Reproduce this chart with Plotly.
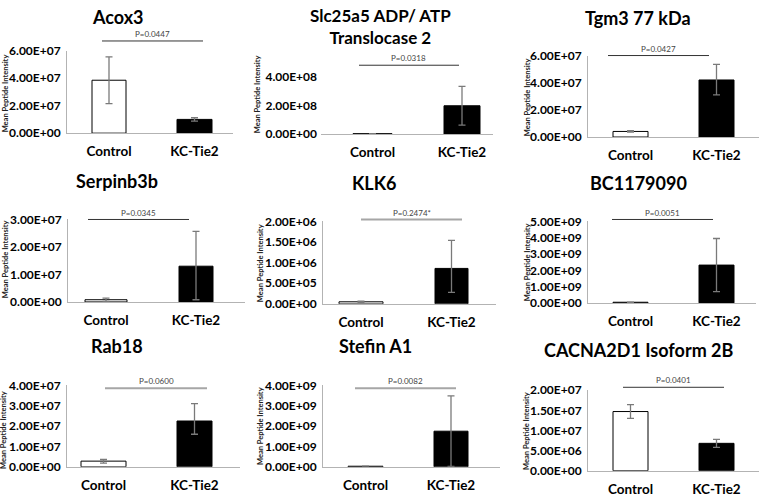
import plotly.graph_objects as go

# ---------------- data ----------------
categories = ["Control", "KC-Tie2"]
titles = ["Acox3", "Slc25a5 ADP/ ATP<br>Translocase 2", "Tgm3 77 kDa",
          "Serpinb3b", "KLK6", "BC1179090",
          "Rab18", "Stefin A1", "CACNA2D1 Isoform 2B"]
p_labels = ["P=0.0447", "P=0.0318", "P=0.0427",
            "P=0.0345", "P=0.2474*", "P=0.0051",
            "P=0.0600", "P=0.0082", "P=0.0401"]
control_mean = [3.85e7, 3.0e6, 4.1e6, 8.0e5, 5.0e4, 4.0e7, 2.8e6, 3.0e7, 1.47e7]
control_err_hi = [1.7e7, 1.0e6, 5.0e5, 6.0e5, 1.5e4, 0, 8.0e5, 0, 1.7e6]
control_err_lo = [1.7e7, 1.0e6, 5.0e5, 6.0e5, 1.5e4, 0, 1.0e6, 0, 1.7e6]
kc_mean = [1.0e7, 1.98e8, 4.2e7, 1.3e7, 8.6e5, 2.32e9, 2.25e7, 1.75e9, 6.8e6]
kc_err_hi = [1.2e6, 1.35e8, 1.15e7, 1.27e7, 6.8e5, 1.63e9, 8.5e6, 1.73e9, 1.0e6]
kc_err_lo = [1.2e6, 1.35e8, 1.1e7, 1.22e7, 5.8e5, 1.63e9, 6.5e6, 1.73e9, 1.0e6]
y_max = [6e7, 4e8, 6e7, 3e7, 2e6, 5e9, 4e7, 4e9, 2e7]
y_step = [2e7, 2e8, 2e7, 1e7, 5e5, 1e9, 1e7, 1e9, 5e6]
y_title = "Mean Peptide Intensity"

# ---------------- layout geometry (pixels) ----------------
W, H = 760, 501
geom = [
    dict(L=67, R=233, base=129, top=44, c0=109, c1=194.5, w0=34, w1=35, tx=118, ty=9, tsize=18, yx=5, yy=88, px0=102, px1=203, py=34, gray=False, yline=True),
    dict(L=321, R=493, base=130, top=71, c0=372.5, c1=462, w0=39, w1=36, tx=380, ty=19, tsize=17, yx=257, yy=89, px0=359, px1=459, py=59, gray=False, yline=False),
    dict(L=588, R=759, base=133, top=49, c0=630.5, c1=716.5, w0=35, w1=35, tx=638, ty=10, tsize=18, yx=527, yy=92, px0=608, px1=709, py=49, gray=False, yline=True),
    dict(L=68, R=245, base=303, top=218, c0=106, c1=196, w0=42, w1=34, tx=117, ty=178, tsize=18, yx=5, yy=259, px0=88, px1=189, py=218, gray=False, yline=True),
    dict(L=323, R=496, base=305, top=220, c0=361, c1=451.5, w0=44, w1=33, tx=374, ty=180, tsize=18, yx=260, yy=263, px0=361, px1=462, py=218, gray=True, yline=True),
    dict(L=588, R=756, base=304, top=220, c0=630.5, c1=716.5, w0=35, w1=35, tx=638, ty=180, tsize=18, yx=527, yy=262, px0=612, px1=713, py=218, gray=False, yline=True),
    dict(L=67, R=240, base=473, top=389, c0=103.5, c1=194.5, w0=45, w1=35, tx=117, ty=348, tsize=18, yx=4, yy=435, px0=105, px1=207, py=392, gray=True, yline=True),
    dict(L=323, R=500, base=473, top=389, c0=365.5, c1=451, w0=35, w1=34, tx=375, ty=348, tsize=18, yx=260, yy=431, px0=355, px1=456, py=392, gray=True, yline=True),
    dict(L=588, R=759, base=477, top=394, c0=630.5, c1=716.5, w0=35, w1=35, tx=639, ty=353, tsize=18, yx=527, yy=436, px0=623, px1=724, py=391, gray=False, yline=True),
]


def fx(x):
    return x / W


def fy(y):
    return 1 - y / H


FONT = "Lato"
AXIS_COLOR = "#b3b3b3"

fig = go.Figure()
layout = dict(width=W, height=H, autosize=False, margin=dict(l=0, r=0, t=0, b=0),
              paper_bgcolor="white", plot_bgcolor="white", showlegend=False,
              annotations=[], shapes=[])

for i, g in enumerate(geom):
    n = "" if i == 0 else str(i + 1)
    s = g["c1"] - g["c0"]
    fig.add_trace(go.Bar(
        x=categories,
        y=[control_mean[i], kc_mean[i]],
        width=[g["w0"] / s, g["w1"] / s],
        marker=dict(color=["white", "black"], line=dict(color="black", width=1)),
        error_y=dict(type="data", symmetric=False,
                     array=[control_err_hi[i], kc_err_hi[i]],
                     arrayminus=[control_err_lo[i], kc_err_lo[i]],
                     color="#7a7a7a", thickness=1.3, width=3.5),
        xaxis="x" + n, yaxis="y" + n, hoverinfo="skip",
    ))
    nticks = int(round(y_max[i] / y_step[i]))
    tvals = [k * y_step[i] for k in range(nticks + 1)]
    layout["xaxis" + n] = dict(
        domain=[fx(g["L"]), fx(g["R"])], anchor="y" + n, type="category",
        range=[(g["L"] - g["c0"]) / s, (g["R"] - g["c0"]) / s],
        showline=True, linecolor=AXIS_COLOR, linewidth=1, ticks="",
        showgrid=False, zeroline=False, fixedrange=True,
        tickfont=dict(family=FONT, size=13.5, color="black", weight="bold"),
        ticklabelstandoff=6,
    )
    layout["yaxis" + n] = dict(
        domain=[fy(g["base"]), fy(g["top"])], anchor="x" + n,
        range=[0, y_max[i]], tickvals=tvals,
        ticktext=[f"{v:.2E}" for v in tvals],
        showline=g["yline"], linecolor=AXIS_COLOR, linewidth=1, ticks="",
        showgrid=False, zeroline=False, fixedrange=True,
        tickfont=dict(family=FONT, size=12, color="black", weight="bold"),
        ticklabelstandoff=3,
    )
    layout["annotations"].append(dict(
        text=titles[i], x=fx(g["tx"]), y=fy(g["ty"]), xref="paper", yref="paper",
        xanchor="center", yanchor="middle", showarrow=False, borderpad=0,
        font=dict(family=FONT, size=g["tsize"], color="black", weight="bold")))
    layout["annotations"].append(dict(
        text=y_title, x=fx(g["yx"]), y=fy(g["yy"]), xref="paper", yref="paper",
        xanchor="center", yanchor="middle", showarrow=False, textangle=-90,
        font=dict(family=FONT, size=7.5, color="#222222", weight="bold")))
    layout["annotations"].append(dict(
        text=p_labels[i], x=fx((g["px0"] + g["px1"]) / 2), y=fy(g["py"] - 1),
        xref="paper", yref="paper", xanchor="center", yanchor="bottom",
        showarrow=False, borderpad=0, font=dict(family=FONT, size=8, color="#444444")))
    layout["shapes"].append(dict(
        type="line", xref="paper", yref="paper",
        x0=fx(g["px0"]), x1=fx(g["px1"]), y0=fy(g["py"]), y1=fy(g["py"]),
        line=dict(color="#a6a6a6" if g["gray"] else "#333333",
                  width=2 if g["gray"] else 1)))

fig.update_layout(**layout)
fig.write_html("out.html", config={"displayModeBar": False},
               post_script="document.body.style.margin='0';document.body.style.overflow='hidden';")
